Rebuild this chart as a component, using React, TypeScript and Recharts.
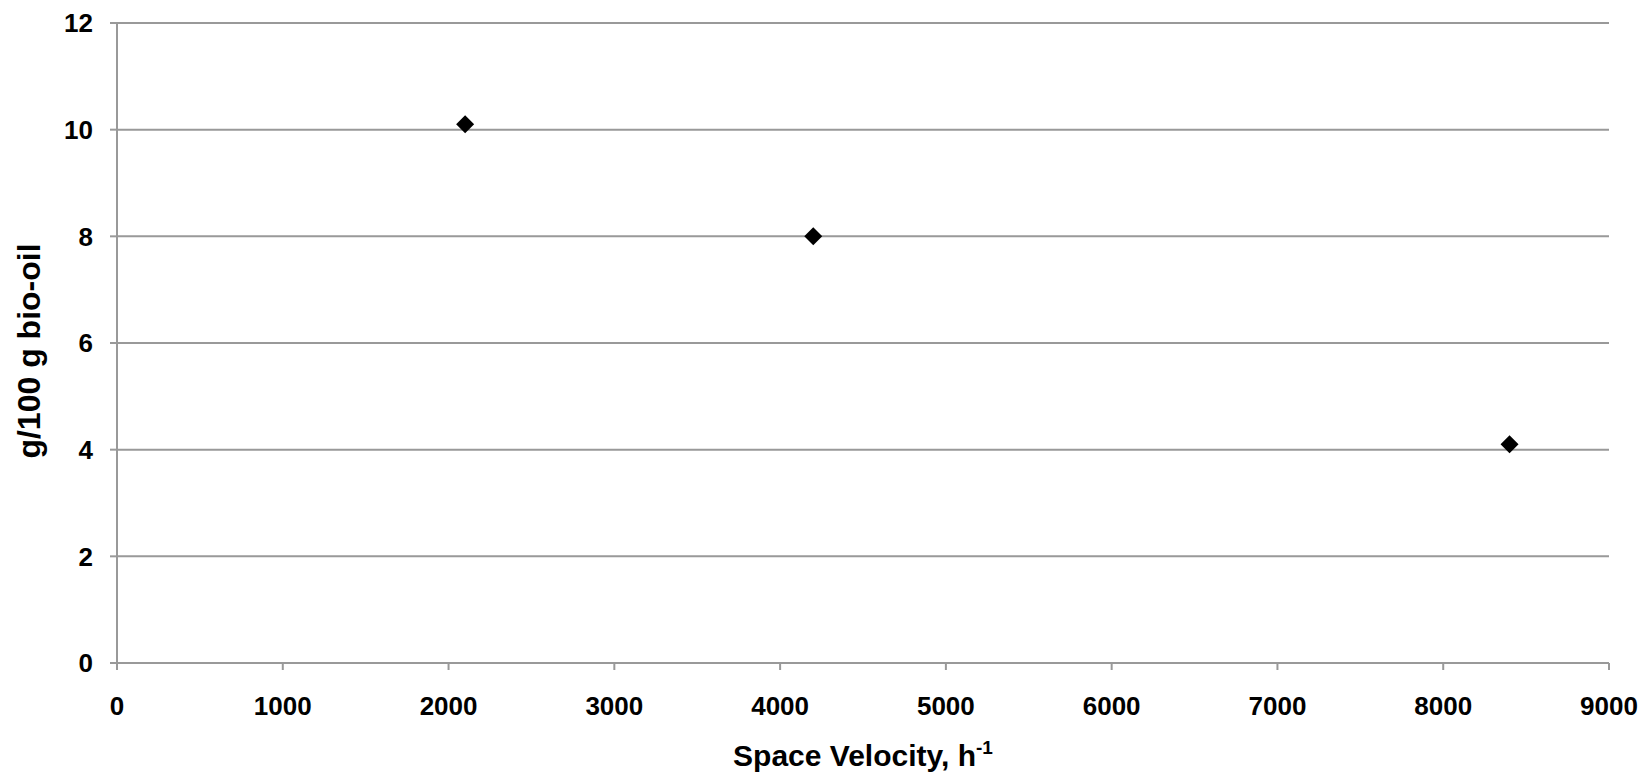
import React from "react";
import {
  ScatterChart,
  Scatter,
  XAxis,
  YAxis,
  CartesianGrid,
} from "recharts";

const spaceVelocity = [2100, 4200, 8400];
const bioOilYield = [10.1, 8.0, 4.1];
const xTicks = [0, 1000, 2000, 3000, 4000, 5000, 6000, 7000, 8000, 9000];
const yTicks = [0, 2, 4, 6, 8, 10, 12];

const points = spaceVelocity.map((v, i) => ({ x: v, y: bioOilYield[i] }));

const FONT = "'Liberation Sans', Arial, sans-serif";
const GRID = "#999999";

const Diamond = (props: any) => {
  const { cx, cy } = props;
  const r = 9;
  return (
    <path
      d={`M${cx},${cy - r}L${cx + r},${cy}L${cx},${cy + r}L${cx - r},${cy}Z`}
      fill="#000"
    />
  );
};

const XTitle = (props: any) => {
  const { x, y, width } = props.viewBox;
  return (
    <text
      x={x + width / 2}
      y={y + 103}
      textAnchor="middle"
      fontFamily={FONT}
      fontWeight="bold"
      fontSize={30}
      fill="#000"
    >
      Space Velocity, h
      <tspan dy={-12} fontSize={19}>
        -1
      </tspan>
    </text>
  );
};

const YTitle = (props: any) => {
  const { y, height } = props.viewBox;
  const cx = 29;
  const cy = y + height / 2 + 8;
  return (
    <text
      x={cx}
      y={cy}
      transform={`rotate(-90 ${cx} ${cy})`}
      textAnchor="middle"
      dominantBaseline="central"
      fontFamily={FONT}
      fontWeight="bold"
      fontSize={32}
      fill="#000"
    >
      g/100 g bio-oil
    </text>
  );
};

export default function App() {
  const tick = {
    fill: "#000",
    fontFamily: FONT,
    fontWeight: "bold",
    fontSize: 26,
  };
  return (
    <div style={{ position: "absolute", left: 0, top: 0, background: "#fff" }}>
      <ScatterChart
        width={1643}
        height={776}
        margin={{ top: 23, right: 34, left: 0, bottom: 0 }}
      >
        <CartesianGrid
          vertical={false}
          stroke={GRID}
          strokeWidth={2}
          horizontalValues={yTicks}
        />
        <XAxis
          type="number"
          dataKey="x"
          domain={[0, 9000]}
          ticks={xTicks}
          interval={0}
          height={113}
          stroke={GRID}
          strokeWidth={2}
          tickSize={7}
          tickMargin={27}
          tick={tick}
          label={<XTitle />}
        />
        <YAxis
          type="number"
          dataKey="y"
          domain={[0, 12]}
          ticks={yTicks}
          interval={0}
          width={117}
          stroke={GRID}
          strokeWidth={2}
          tickSize={7}
          tickMargin={17}
          tick={tick}
          label={<YTitle />}
        />
        <Scatter
          data={points}
          shape={<Diamond />}
          isAnimationActive={false}
        />
      </ScatterChart>
    </div>
  );
}
